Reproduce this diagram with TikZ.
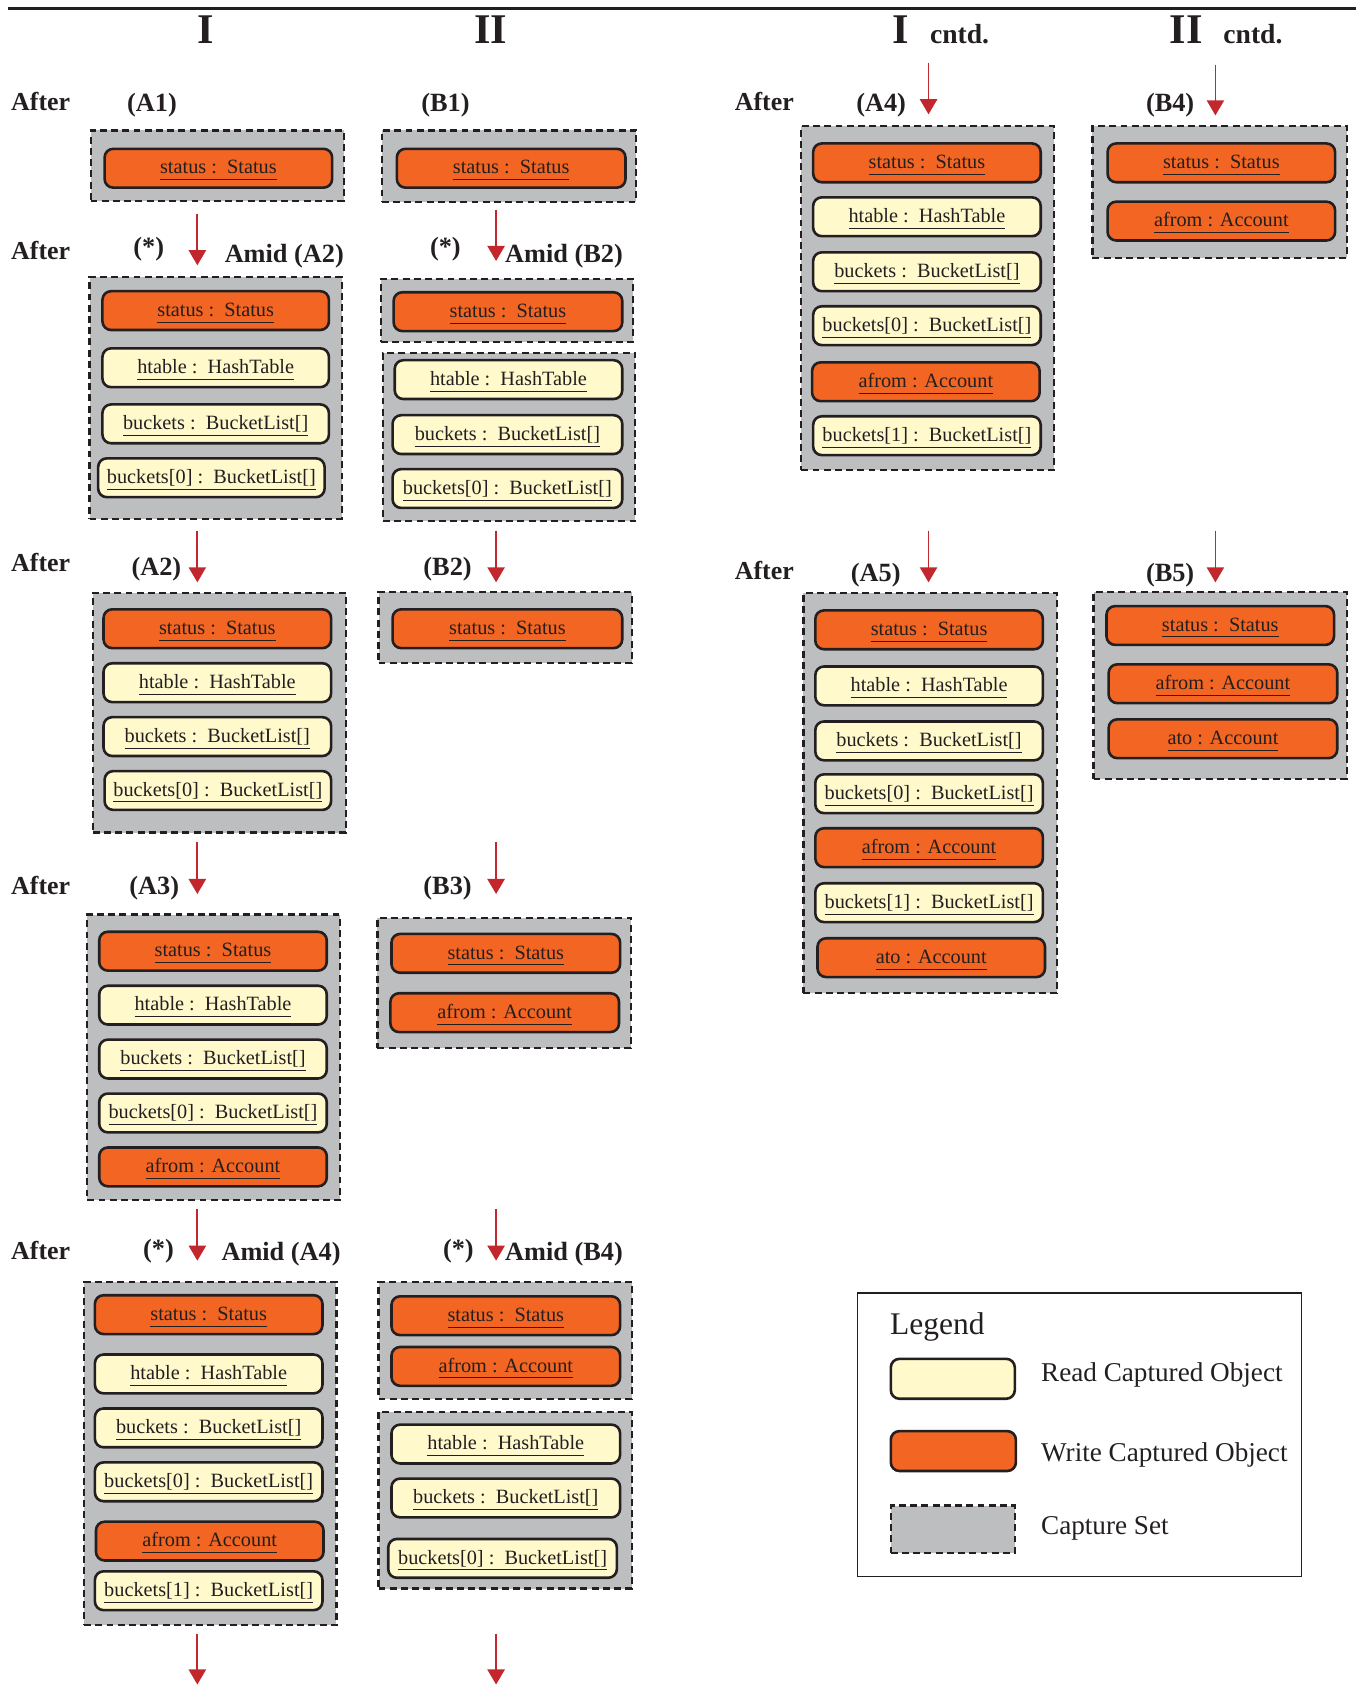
\documentclass[tikz,border=0pt]{standalone}
\usepackage{fontspec}
\setmainfont{Liberation Serif}
\usetikzlibrary{arrows.meta}
\definecolor{worange}{HTML}{F26522}
\definecolor{ryellow}{HTML}{FFF9CC}
\definecolor{cgray}{HTML}{BCBEC0}
\definecolor{ared}{HTML}{C1272D}
\definecolor{ink}{HTML}{231F20}
\tikzset{
  objbase/.style={draw=ink, line width=1.2pt, rounded corners=4pt, inner sep=0pt, text=ink,
    font=\fontsize{9.4}{11}\selectfont},
  objw/.style={objbase, fill=worange},
  objr/.style={objbase, fill=ryellow},
  capbox/.style={draw=ink, fill=cgray, line width=1pt, dash pattern=on 3.2pt off 2pt, inner sep=0pt},
  flow/.style={draw=ared, line width=0.8pt, -{Triangle[width=8pt,length=7pt]}},
  aftertxt/.style={font=\bfseries\fontsize{12}{14}\selectfont, anchor=base west, text=ink, inner sep=0pt},
  lbl/.style={font=\bfseries\fontsize{12.2}{14}\selectfont, anchor=base, text=ink, inner sep=0pt},
  lblw/.style={lbl, anchor=base west},
  hdr/.style={font=\bfseries\fontsize{19.6}{22}\selectfont, anchor=base, text=ink, inner sep=0pt},
  hdrsub/.style={font=\bfseries\fontsize{12.8}{15}\selectfont, anchor=base west, text=ink, inner sep=0pt},
  legtxt/.style={font=\fontsize{12.6}{15}\selectfont, anchor=base west, text=ink, inner sep=0pt},
}
\newcommand{\obj}[7]{\node[#2, minimum width={(#5-#3)*0.5pt}, minimum height={(#6-#4)*0.5pt}] (#1) at ({(#3+#5)/2},{(#4+#6)/2}) {\raisebox{-1pt}[\height][\depth]{\underline{#7\vphantom{[]}}}};}
\newcommand{\capset}[5]{\node[capbox, minimum width={(#4-#2)*0.5pt}, minimum height={(#5-#3)*0.5pt}] (#1) at ({(#2+#4)/2},{(#3+#5)/2}) {};}
\newcommand{\flowarrow}[4]{\coordinate (#1s) at (#2,#3); \coordinate (#1e) at (#2,#4); \draw[flow] (#1s) -- (#1e);}
\begin{document}
\begin{tikzpicture}[x=0.5pt,y=-0.5pt]
\useasboundingbox (0,0) rectangle (1257,1568);
% top rule
\coordinate (ruleL) at (7,8); \coordinate (ruleR) at (1257,8);
\draw[line width=1.6pt, ink] (ruleL) -- (ruleR);
% headers
\node[hdr] (h1) at (191,40) {I};
\node[hdr] (h2) at (455,40) {II};
\node[hdr] (h3) at (835,40) {I};
\node[hdrsub] (h3b) at (862,40) {cntd.};
\node[hdr] (h4) at (1100,40) {II};
\node[hdrsub] (h4b) at (1134,40) {cntd.};
% row labels
\node[aftertxt] (af1) at (10,102) {After};
\node[aftertxt] (af2) at (10,241) {After};
\node[aftertxt] (af3) at (10,530) {After};
\node[aftertxt] (af4) at (10,829) {After};
\node[aftertxt] (af5) at (10,1168) {After};
\node[aftertxt] (af6) at (681,102) {After};
\node[aftertxt] (af7) at (681,537) {After};
\node[lbl] (lA1) at (141,103) {(A1)};
\node[lbl] (lB1) at (413,103) {(B1)};
\node[lbl] (lA4) at (817,103) {(A4)};
\node[lbl] (lB4) at (1085,103) {(B4)};
\node[lbl] (st1) at (138,237) {(*)};
\node[lblw] (lA2m) at (208,243) {Amid (A2)};
\node[lbl] (st2) at (413,237) {(*)};
\node[lblw] (lB2m) at (468,243) {Amid (B2)};
\node[lbl] (lA2) at (145,534) {(A2)};
\node[lbl] (lB2) at (415,534) {(B2)};
\node[lbl] (lA5) at (812,539) {(A5)};
\node[lbl] (lB5) at (1085,539) {(B5)};
\node[lbl] (lA3) at (143,829) {(A3)};
\node[lbl] (lB3) at (415,829) {(B3)};
\node[lbl] (st3) at (147,1166) {(*)};
\node[lblw] (lA4m) at (205,1169) {Amid (A4)};
\node[lbl] (st4) at (425,1166) {(*)};
\node[lblw] (lB4m) at (468,1169) {Amid (B4)};
% arrows
\flowarrow{fa1}{183}{198}{246}
\flowarrow{fa2}{183}{492}{540}
\flowarrow{fa3}{183}{781}{829}
\flowarrow{fa4}{183}{1121}{1169}
\flowarrow{fa5}{183}{1515}{1562}
\flowarrow{fb1}{460}{195}{242}
\flowarrow{fb2}{460}{492}{540}
\flowarrow{fb3}{460}{781}{829}
\flowarrow{fb4}{460}{1121}{1169}
\flowarrow{fb5}{460}{1515}{1562}
\flowarrow{fc1}{861}{58}{106}
\flowarrow{fc2}{861}{492}{540}
\flowarrow{fd1}{1127}{60}{107}
\flowarrow{fd2}{1127}{492}{540}
% ---- column I ----
\capset{cA1}{84}{121}{319}{186}
\obj{A1s}{objw}{97}{138}{308}{174}{status :~~Status}
\capset{cA2m}{83}{257}{317}{481}
\obj{A2ms}{objw}{95}{270}{305}{306}{status :~~Status}
\obj{A2mh}{objr}{95}{323}{305}{359}{htable :~~HashTable}
\obj{A2mb}{objr}{95}{375}{305}{411}{buckets :~~BucketList[]}
\obj{A2mz}{objr}{91}{425}{301}{461}{buckets[0] :~~BucketList[]}
\capset{cA2}{86}{550}{321}{772}
\obj{A2s}{objw}{96}{565}{307}{601}{status :~~Status}
\obj{A2h}{objr}{96}{615}{307}{651}{htable :~~HashTable}
\obj{A2b}{objr}{96}{665}{307}{701}{buckets :~~BucketList[]}
\obj{A2z}{objr}{97}{715}{307}{751}{buckets[0] :~~BucketList[]}
\capset{cA3}{81}{848}{315}{1113}
\obj{A3s}{objw}{92}{864}{303}{900}{status :~~Status}
\obj{A3h}{objr}{92}{914}{303}{950}{htable :~~HashTable}
\obj{A3b}{objr}{92}{964}{303}{1000}{buckets :~~BucketList[]}
\obj{A3z}{objr}{92}{1014}{303}{1050}{buckets[0] :~~BucketList[]}
\obj{A3f}{objw}{92}{1064}{303}{1100}{afrom : Account}
\capset{cA4m}{78}{1189}{312}{1507}
\obj{A4ms}{objw}{88}{1201}{299}{1237}{status :~~Status}
\obj{A4mh}{objr}{88}{1256}{299}{1292}{htable :~~HashTable}
\obj{A4mb}{objr}{88}{1306}{299}{1342}{buckets :~~BucketList[]}
\obj{A4mz}{objr}{88}{1356}{299}{1392}{buckets[0] :~~BucketList[]}
\obj{A4mf}{objw}{89}{1411}{300}{1447}{afrom : Account}
\obj{A4mo}{objr}{88}{1457}{299}{1493}{buckets[1] :~~BucketList[]}
% ---- column II ----
\capset{cB1}{354}{121}{590}{187}
\obj{B1s}{objw}{368}{138}{580}{174}{status :~~Status}
\capset{cB2ma}{353}{259}{587}{317}
\obj{B2ms}{objw}{365}{271}{577}{307}{status :~~Status}
\capset{cB2mb}{355}{327}{589}{483}
\obj{B2mh}{objr}{366}{334}{577}{370}{htable :~~HashTable}
\obj{B2mb}{objr}{364}{385}{577}{421}{buckets :~~BucketList[]}
\obj{B2mz}{objr}{364}{435}{577}{471}{buckets[0] :~~BucketList[]}
\capset{cB2}{351}{549}{586}{615}
\obj{B2s}{objw}{364}{565}{577}{601}{status :~~Status}
\capset{cB3}{350}{851}{585}{972}
\obj{B3s}{objw}{363}{866}{575}{902}{status :~~Status}
\obj{B3f}{objw}{362}{921}{574}{957}{afrom : Account}
\capset{cB4ma}{351}{1189}{586}{1297}
\obj{B4ms}{objw}{363}{1202}{575}{1238}{status :~~Status}
\obj{B4mf}{objw}{363}{1249}{575}{1285}{afrom : Account}
\capset{cB4mb}{351}{1309}{586}{1473}
\obj{B4mh}{objr}{363}{1321}{575}{1357}{htable :~~HashTable}
\obj{B4mb}{objr}{363}{1371}{575}{1407}{buckets :~~BucketList[]}
\obj{B4mz}{objr}{360}{1427}{572}{1463}{buckets[0] :~~BucketList[]}
% ---- I cntd. ----
\capset{cA4}{743}{117}{977}{436}
\obj{A4s}{objw}{754}{133}{965}{169}{status :~~Status}
\obj{A4h}{objr}{754}{183}{965}{219}{htable :~~HashTable}
\obj{A4b}{objr}{754}{234}{965}{270}{buckets :~~BucketList[]}
\obj{A4z}{objr}{754}{284}{965}{320}{buckets[0] :~~BucketList[]}
\obj{A4f}{objw}{753}{336}{964}{372}{afrom : Account}
\obj{A4o}{objr}{754}{386}{965}{422}{buckets[1] :~~BucketList[]}
\capset{cA5}{745}{550}{980}{921}
\obj{A5s}{objw}{756}{566}{967}{602}{status :~~Status}
\obj{A5h}{objr}{756}{618}{967}{654}{htable :~~HashTable}
\obj{A5b}{objr}{756}{669}{967}{705}{buckets :~~BucketList[]}
\obj{A5z}{objr}{756}{718}{967}{754}{buckets[0] :~~BucketList[]}
\obj{A5f}{objw}{756}{768}{967}{804}{afrom : Account}
\obj{A5o}{objr}{756}{819}{967}{855}{buckets[1] :~~BucketList[]}
\obj{A5t}{objw}{758}{870}{969}{906}{ato : Account}
% ---- II cntd. ----
\capset{cB4}{1013}{117}{1249}{239}
\obj{B4s}{objw}{1027}{133}{1238}{169}{status :~~Status}
\obj{B4f}{objw}{1027}{187}{1238}{223}{afrom : Account}
\capset{cB5}{1014}{549}{1249}{722}
\obj{B5s}{objw}{1026}{562}{1237}{598}{status :~~Status}
\obj{B5f}{objw}{1028}{616}{1240}{652}{afrom : Account}
\obj{B5t}{objw}{1028}{667}{1240}{703}{ato : Account}
% ---- legend ----
\node[draw=ink, line width=0.6pt, minimum width={(1207-795)*0.5pt}, minimum height={(1462-1199)*0.5pt}, inner sep=0pt] (legbox) at ({(795+1207)/2},{(1199+1462)/2}) {};
\node[legtxt, font=\fontsize{14.6}{17}\selectfont] (legtitle) at (825,1237) {Legend};
\node[objr, minimum width={(941-826)*0.5pt}, minimum height={(1297-1260)*0.5pt}] (legR) at ({(826+941)/2},{(1260+1297)/2}) {};
\node[legtxt] (legRt) at (965,1281) {Read Captured Object};
\node[objw, minimum width={(942-826)*0.5pt}, minimum height={(1364-1327)*0.5pt}] (legW) at ({(826+942)/2},{(1327+1364)/2}) {};
\node[legtxt] (legWt) at (965,1355) {Write Captured Object};
\capset{legC}{826}{1396}{941}{1440}
\node[legtxt] (legCt) at (965,1423) {Capture Set};
\end{tikzpicture}
\end{document}
